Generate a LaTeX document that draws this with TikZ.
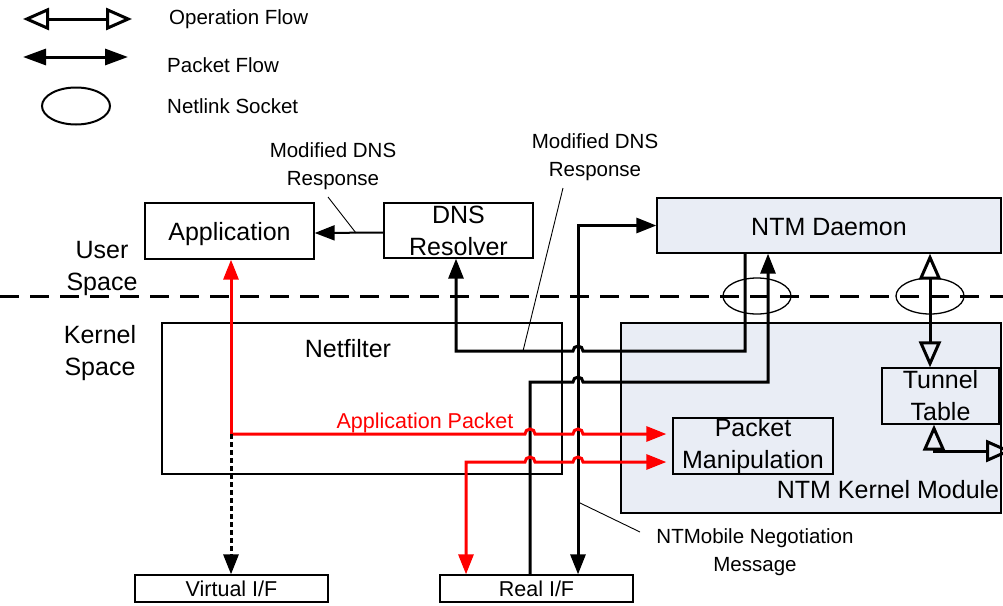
\documentclass[tikz,border=0pt]{standalone}
\usepackage{fontspec}
\setmainfont{Liberation Sans}
\usetikzlibrary{arrows.meta,shapes.geometric}
\definecolor{ntmfill}{RGB}{233,237,245}
\definecolor{pktred}{RGB}{255,0,0}
\newcommand\bigf{\fontsize{25}{32}\selectfont}
\newcommand\smallf{\fontsize{20.5}{28}\selectfont}
\newcommand\midf{\fontsize{21.5}{28}\selectfont}
\begin{document}
\begin{tikzpicture}[x=1pt,y=-1pt,
  PTip/.tip={Triangle[length=20pt,width=15pt]},
  PTipL/.tip={Triangle[length=23pt,width=16pt]},
  OTip/.tip={Triangle[open,length=26pt,width=22pt]},
  box/.style={draw,line width=1.3pt,inner sep=0pt,align=center,font=\bigf},
  ntmbox/.style={box,fill=ntmfill},
  ifbox/.style={draw,line width=1.3pt,inner sep=0pt,font=\midf},
  pkt/.style={line width=3pt,draw=black},
  redpkt/.style={line width=3pt,draw=pktred},
  op/.style={line width=3pt,draw=black},
  dotline/.style={line width=3pt,draw=black,dash pattern=on 5pt off 3pt},
  divider/.style={line width=3pt,dash pattern=on 19pt off 11pt},
  lead/.style={line width=0.9pt},
  sock/.style={draw,ellipse,line width=1.3pt,inner sep=0pt},
  smalltxt/.style={inner sep=0pt,font=\smallf,align=center},
  bigtxt/.style={inner sep=0pt,font=\bigf,align=center}]
\useasboundingbox (0,0) rectangle (1003,605);

% legend
\coordinate (lo1) at (23,19); \coordinate (lo2) at (132,19);
\draw[op,{OTip}-{OTip}] (lo1) -- (lo2);
\node[smalltxt,anchor=west] (lt1) at (169,19) {Operation Flow};
\coordinate (lp1) at (23,57); \coordinate (lp2) at (128,57);
\draw[pkt,{PTipL}-{PTipL}] (lp1) -- (lp2);
\node[smalltxt,anchor=west] (lt2) at (167,65) {Packet Flow};
\node[sock,line width=2pt,minimum width=68pt,minimum height=37pt] (ls) at (76,106) {};
\node[smalltxt,anchor=west] (lt3) at (167,106) {Netlink Socket};

% user / kernel divider
\coordinate (dl) at (0,296); \coordinate (dr) at (1003,296);
\draw[divider] (dl) -- (dr);
\node[bigtxt] (us) at (102,268) {User\\Space};
\node[bigtxt] (ks) at (100,353) {Kernel\\Space};

% boxes
\node[box,minimum width=169pt,minimum height=56pt] (app) at (229.5,231) {};
\node[bigtxt,yshift=-3pt] (appl) at (app.center) {Application};
\node[box,minimum width=149pt,minimum height=55pt] (dns) at (458.5,230.5) {DNS\\Resolver};
\node[ntmbox,minimum width=344pt,minimum height=55pt] (daemon) at (829,225.5) {};
\node[bigtxt,yshift=-1.5pt] (daemonl) at (daemon.center) {NTM Daemon};
\node[box,minimum width=400pt,minimum height=151pt] (netf) at (362,398.5) {};
\node[bigtxt] (netfl) at (348,349) {Netfilter};
\node[ntmbox,minimum width=380pt,minimum height=190pt] (kmod) at (811,418) {};
\node[bigtxt] (kmodl) at (888,490) {NTM Kernel Module};
\node[ntmbox,minimum width=160pt,minimum height=56pt] (pm) at (753,446) {Packet\\Manipulation};
\node[ntmbox,minimum width=117pt,minimum height=56pt] (tt) at (940.5,396) {Tunnel\\Table};
\node[ifbox,minimum width=193pt,minimum height=27pt] (vif) at (231.5,588.5) {Virtual I/F};
\node[ifbox,minimum width=193pt,minimum height=27pt] (rif) at (536.5,588.5) {Real I/F};

% netlink sockets
\node[sock,minimum width=68pt,minimum height=36pt] (s1) at (757,296) {};
\node[sock,minimum width=68pt,minimum height=36pt] (s2) at (930,296) {};

% lane coordinates
\coordinate (cA) at (745,0);
\coordinate (cB) at (768,0);
\coordinate (cC) at (578,0);
\coordinate (cD) at (530,0);
\coordinate (cE) at (466,0);
\coordinate (cG) at (456,0);
\coordinate (cH) at (930,0);
\coordinate (cI) at (934,0);
\coordinate (J) at (231,434);
\coordinate (K) at (466,462);
\coordinate (offR) at (1012,451);

% DNS resolver -> application
\draw[pkt,line width=2pt,-{PTip}] ([yshift=-2pt]dns.west) -- ([yshift=-2pt]app.east);

% daemon -> DNS resolver
\draw[pkt,-{PTip}] (daemon.south -| cA) -- (745,351) -- (583,351)
  arc[start angle=0,end angle=180,radius=5pt] -- (456,351) -- (dns.south -| cG);

% real I/F -> daemon
\draw[pkt,-{PTip}] (rif.north -| cD) -- (530,382) -- (573,382)
  arc[start angle=180,end angle=0,radius=5pt] -- (768,382) -- (daemon.south -| cB);

% real I/F <-> daemon (negotiation)
\draw[pkt,{PTip}-{PTip}] (rif.north -| cC) -- (daemon.west -| cC) -- (daemon.west);

% application packets
\draw[redpkt,-{PTip}] (J) -- (app.south -| J);
\draw[redpkt,-{PTip},shorten >=6pt] (J) -- (525,434)
  arc[start angle=180,end angle=0,radius=5pt] -- (573,434)
  arc[start angle=180,end angle=0,radius=5pt] -- (pm.west |- J);
\draw[redpkt,{PTip}-{PTip},shorten >=6pt] (rif.north -| cE) -- (K) -- (525,462)
  arc[start angle=180,end angle=0,radius=5pt] -- (573,462)
  arc[start angle=180,end angle=0,radius=5pt] -- (pm.west |- K);
\node[font=\midf,text=pktred,inner sep=0pt] (apl) at (425,423) {Application Packet};
\draw[dotline,-{PTip}] (J) -- (vif.north -| J);

% operation flows
\draw[op,{OTip}-{OTip}] (daemon.south -| cH) -- (tt.north -| cH);
\draw[op,{OTip}-{OTip}] (tt.south -| cI) -- (934,451) -- (offR);

% labels with leaders
\node[smalltxt] (m1) at (333,166) {Modified DNS\\Response};
\coordinate (m1a) at (328,197); \coordinate (m1b) at (356,233);
\draw[lead] (m1a) -- (m1b);
\node[smalltxt] (m2) at (595,157) {Modified DNS\\Response};
\coordinate (m2a) at (563,188); \coordinate (m2b) at (523,351);
\draw[lead] (m2a) -- (m2b);
\node[smalltxt] (m3) at (755,552) {NTMobile Negotiation\\Message};
\coordinate (m3a) at (578,502); \coordinate (m3b) at (640,532);
\draw[lead] (m3a) -- (m3b);
\end{tikzpicture}
\end{document}
